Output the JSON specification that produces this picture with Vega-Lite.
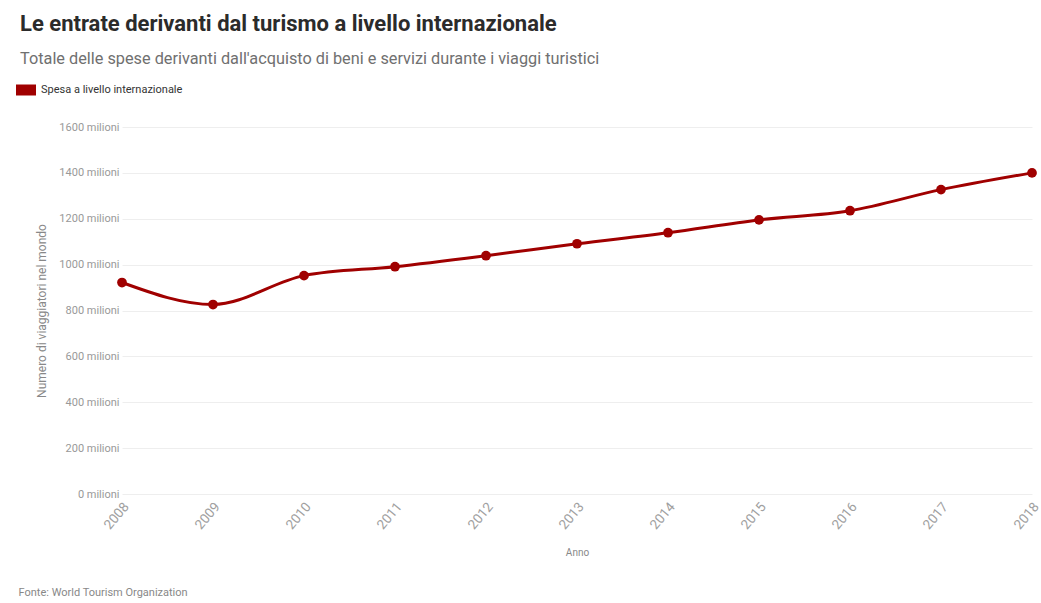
{
  "$schema": "https://vega.github.io/schema/vega-lite/v6.json",
  "width": 910,
  "height": 367,
  "autosize": "none",
  "padding": {"left": 122, "top": 127, "right": 9, "bottom": 109},
  "background": "white",
  "title": {
    "text": "Le entrate derivanti dal turismo a livello internazionale",
    "subtitle": "Totale delle spese derivanti dall'acquisto di beni e servizi durante i viaggi turistici",
    "anchor": "start",
    "frame": "group",
    "dx": -102,
    "offset": 12,
    "font": "Liberation Sans Narrow, Roboto, sans-serif",
    "fontSize": 22,
    "fontWeight": "bold",
    "color": "#2b2b2b",
    "subtitleFont": "Roboto, sans-serif",
    "subtitleFontSize": 16.3,
    "subtitleColor": "#707070",
    "subtitlePadding": 15
  },
  "data": {
    "values": [
      {"anno": "2008", "valore": 922},
      {"anno": "2009", "valore": 826},
      {"anno": "2010", "valore": 952},
      {"anno": "2011", "valore": 991},
      {"anno": "2012", "valore": 1039},
      {"anno": "2013", "valore": 1091},
      {"anno": "2014", "valore": 1139},
      {"anno": "2015", "valore": 1195},
      {"anno": "2016", "valore": 1235},
      {"anno": "2017", "valore": 1327},
      {"anno": "2018", "valore": 1400}
    ]
  },
  "config": {
    "view": {"stroke": null},
    "font": "Roboto, sans-serif"
  },
  "encoding": {
    "x": {
      "field": "anno",
      "type": "ordinal",
      "scale": {"type": "point", "padding": 0},
      "axis": {
        "title": "Anno",
        "labelAngle": -50,
        "labelFontSize": 13.5,
        "labelColor": "#a0a0a0",
        "labelPadding": 10,
        "labelOffset": 4,
        "ticks": false,
        "domain": false,
        "grid": false,
        "titleFontSize": 10,
        "titleFontWeight": "normal",
        "titleColor": "#888888",
        "titlePadding": 16
      }
    }
  },
  "layer": [
    {
      "mark": {
        "type": "line",
        "interpolate": "monotone",
        "strokeWidth": 3,
        "point": {"filled": true, "size": 95, "opacity": 1}
      },
      "encoding": {
        "y": {
          "field": "valore",
          "type": "quantitative",
          "scale": {"domain": [0, 1600]},
          "axis": {
            "title": "Numero di viaggiatori nel mondo",
            "values": [0, 200, 400, 600, 800, 1000, 1200, 1400, 1600],
            "labelExpr": "datum.value + ' milioni'",
            "labelFontSize": 11,
            "labelColor": "#999999",
            "labelPadding": 3,
            "ticks": false,
            "domain": false,
            "gridColor": "#eeeeee",
            "titleFontSize": 12,
            "titleFontWeight": "normal",
            "titleColor": "#888888",
            "titlePadding": 10
          }
        },
        "color": {
          "datum": "Spesa a livello internazionale",
          "type": "nominal",
          "scale": {"range": ["#a00000"]},
          "legend": {
            "title": null,
            "orient": "none",
            "legendX": -106,
            "legendY": -47,
            "padding": 0,
            "symbolType": "M-1,-0.55L1,-0.55L1,0.55L-1,0.55Z",
            "symbolSize": 400,
            "symbolFillColor": "#a00000",
            "symbolStrokeColor": "#a00000",
            "symbolOpacity": 1,
            "symbolStrokeWidth": 0,
            "labelFontSize": 11,
            "labelColor": "#333333",
            "labelOffset": 5
          }
        }
      }
    },
    {
      "mark": {"type": "point", "opacity": 0},
      "encoding": {
        "y": {
          "field": "valore",
          "type": "quantitative",
          "axis": {
            "orient": "right",
            "title": "Fonte: World Tourism Organization",
            "labels": false,
            "ticks": false,
            "domain": false,
            "grid": false,
            "titleAngle": 0,
            "titleAlign": "left",
            "titleBaseline": "middle",
            "titleX": -1014,
            "titleY": 465,
            "titleFontSize": 11,
            "titleFontWeight": "normal",
            "titleColor": "#888888"
          }
        }
      }
    }
  ],
  "resolve": {"axis": {"y": "independent"}}
}
